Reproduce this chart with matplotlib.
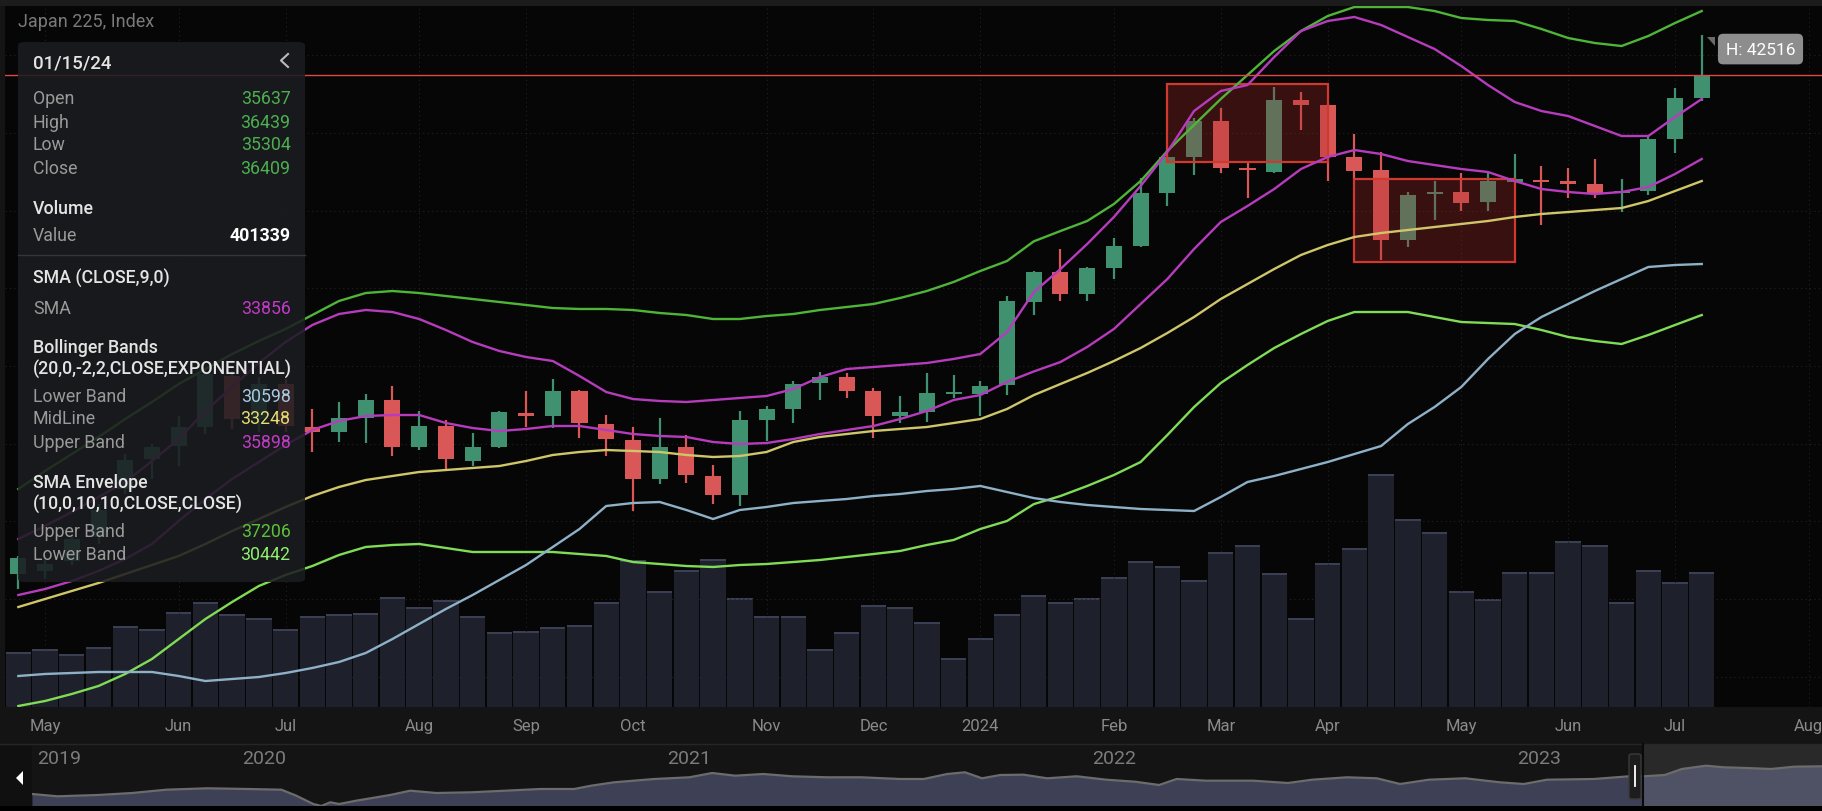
import numpy as np
import pandas as pd
import matplotlib.pyplot as plt
from matplotlib.patches import FancyBboxPatch, Rectangle, Polygon
from matplotlib.lines import Line2D

plt.rcParams['font.family'] = ['Roboto', 'DejaVu Sans']

# weekly candles, Japan 225 (week of 2023-04-24 .. 2024-07-08)
opens = [28644, 28721, 28978, 29596, 30831, 31604, 31938, 32427, 33740, 32633,
         33534, 32427, 32299, 32659, 33122, 31913, 32453, 31552, 31913, 32788,
         32710, 33354, 32504, 32093, 31089, 31913, 31166, 30677, 32608, 32891,
         33560, 33714, 33354, 32710, 32813, 33277, 33277, 33508, 35637, 36417,
         35851, 36520, 37086, 38450, 39377, 40304, 39094, 38991, 40844, 40716,
         39377, 39043, 37241, 38425, 38476, 38219, 38734, 38785, 38759, 38682,
         38450, 38502, 39840, 40896]
highs = [29107, 29133, 29647, 30445, 31732, 31990, 32710, 33869, 33869, 33714,
         33663, 32891, 33071, 33277, 33483, 32839, 32608, 32273, 32839, 33354,
         33663, 33380, 32736, 32427, 32659, 32221, 31449, 32839, 32968, 33611,
         33843, 33817, 33431, 33225, 33817, 33766, 33611, 35799, 36439, 37009,
         36546, 37292, 38837, 39429, 40381, 40638, 39248, 41179, 41050, 40760,
         39969, 39506, 38476, 38759, 38965, 38965, 39454, 39145, 39094, 39326,
         38811, 39918, 41153, 42516]
lows = [28257, 28515, 28875, 29416, 30703, 31089, 31423, 32247, 32376, 32299,
        32299, 31784, 32041, 32015, 31681, 31835, 31295, 31423, 31887, 32427,
        32401, 32144, 31681, 30265, 30960, 30986, 30445, 30394, 32067, 32530,
        33122, 33174, 32144, 32530, 32556, 33174, 32710, 33251, 35304, 35671,
        35671, 36237, 37061, 38116, 38914, 38965, 38322, 38965, 40072, 38759,
        38811, 36726, 37061, 37756, 37987, 37987, 38708, 37627, 38322, 38322,
        37961, 38399, 39480, 40819]
closes = [29055, 28901, 29544, 30291, 31578, 31913, 32427, 33791, 32633, 33534,
          32453, 32299, 32659, 33122, 31913, 32453, 31604, 31913, 32813, 32710,
          33354, 32530, 32118, 31089, 31913, 31192, 30677, 32608, 32891, 33534,
          33714, 33354, 32710, 32813, 33302, 33328, 33483, 35671, 36409, 35851,
          36520, 37086, 38450, 39377, 40304, 39094, 39043, 40844, 40716, 39377,
          39017, 37241, 38399, 38476, 38193, 38759, 38811, 38734, 38682, 38450,
          38502, 39840, 40896, 41488]
volumes = [195500, 207300, 189400, 215500, 290600, 278800, 338500, 376300, 331300, 318100,
           278800, 324200, 331300, 337000, 394200, 356300, 382400, 324200, 267000, 272700,
           285900, 292000, 376300, 525400, 414600, 489600, 530000, 389600, 324200, 324200,
           208400, 267000, 363500, 356300, 304900, 175100, 246600, 331300, 401339, 375300,
           388500, 465700, 522900, 505000, 452800, 555000, 580100, 477800, 317000, 515700,
           568300, 832700, 671900, 625500, 413500, 387100, 483600, 483600, 593300, 580100,
           374200, 490700, 445700, 483600]

# indicator lines
sma9 = [28103, 28257, 28463, 28721, 29030, 29416, 30008, 30574, 31089, 31526,
        31964, 32350, 32582, 32710, 32736, 32736, 32530, 32401, 32324, 32376,
        32453, 32453, 32350, 32247, 32196, 32170, 32041, 31990, 32015, 32118,
        32247, 32350, 32453, 32633, 32839, 33122, 33251, 33586, 33856, 34100,
        34487, 34950, 35593, 36237, 37009, 37704, 38116, 38553, 39068, 39377,
        39557, 39454, 39274, 39171, 39068, 38991, 38759, 38553, 38476, 38425,
        38476, 38605, 38940, 39326]
bb_upper = [29544, 29879, 30239, 30626, 31012, 31552, 32118, 32839, 33457, 34075,
            34615, 35053, 35336, 35439, 35387, 35207, 34924, 34615, 34384, 34229,
            34126, 33740, 33328, 33148, 33097, 33071, 33122, 33174, 33225, 33405,
            33714, 33920, 33972, 34023, 34075, 34178, 34306, 34873, 35898, 36494,
            37138, 37833, 38631, 39506, 40561, 41076, 41230, 41951, 42620, 42878,
            42981, 42775, 42466, 42157, 41719, 41230, 40793, 40561, 40432, 40175,
            39918, 39918, 40407, 40870]
bb_mid = [27794, 28000, 28206, 28412, 28644, 28875, 29107, 29416, 29750, 30059,
          30368, 30651, 30883, 31063, 31166, 31269, 31320, 31372, 31423, 31552,
          31707, 31784, 31835, 31810, 31784, 31707, 31655, 31681, 31784, 32041,
          32170, 32247, 32324, 32376, 32427, 32530, 32633, 32891, 33248, 33534,
          33817, 34126, 34461, 34847, 35259, 35722, 36108, 36494, 36855, 37112,
          37318, 37421, 37498, 37575, 37653, 37730, 37833, 37910, 37961, 38013,
          38064, 38244, 38502, 38759]
bb_lower = [26018, 26070, 26095, 26121, 26121, 26121, 26018, 25889, 25941, 25992,
            26095, 26224, 26378, 26610, 26970, 27357, 27743, 28103, 28489, 28875,
            29339, 29802, 30394, 30471, 30497, 30291, 30059, 30291, 30368, 30471,
            30523, 30574, 30651, 30703, 30780, 30831, 30909, 30754, 30598, 30497,
            30420, 30368, 30317, 30291, 30265, 30626, 31012, 31166, 31346, 31526,
            31732, 31938, 32504, 32942, 33457, 34178, 34821, 35259, 35593, 35928,
            36237, 36546, 36597, 36623]
env_upper = [30831, 31295, 31732, 32170, 32633, 33071, 33534, 33920, 34306, 34641,
             34950, 35310, 35671, 35876, 35928, 35876, 35799, 35722, 35645, 35568,
             35490, 35465, 35465, 35439, 35362, 35310, 35207, 35207, 35284, 35336,
             35439, 35516, 35593, 35748, 35928, 36160, 36443, 36700, 37206, 37472,
             37730, 38167, 38759, 39532, 40201, 40870, 41488, 42106, 42620, 43006,
             43238, 43238, 43238, 43135, 42955, 42904, 42878, 42672, 42440, 42311,
             42234, 42492, 42826, 43135]
env_lower = [25246, 25375, 25555, 25761, 26070, 26456, 26970, 27485, 27923, 28335,
             28618, 28849, 29133, 29339, 29390, 29416, 29313, 29210, 29210, 29210,
             29210, 29158, 29107, 28952, 28901, 28849, 28824, 28875, 28901, 28952,
             29004, 29081, 29158, 29236, 29390, 29519, 29802, 30008, 30442, 30651,
             30909, 31192, 31526, 32221, 32942, 33560, 34023, 34461, 34821, 35156,
             35387, 35387, 35387, 35259, 35130, 35104, 35078, 34924, 34744, 34641,
             34564, 34795, 35053, 35310]

# highlighted ranges (candle index from/to, price low/high)
box_from = [43, 50]
box_to = [49, 56]
box_low = [39256, 36667]
box_high = [41256, 38811]

# overview strip (year, level)
nav_year = [2019.453, 2019.513, 2019.608, 2019.689, 2019.769, 2019.866, 2019.960, 2020.040,
            2020.075, 2020.115, 2020.134, 2020.155, 2020.176, 2020.216, 2020.296, 2020.343,
            2020.405, 2020.487, 2020.567, 2020.649, 2020.729, 2020.769, 2020.823, 2020.918,
            2021.000, 2021.054, 2021.108, 2021.174, 2021.242, 2021.325, 2021.405, 2021.496,
            2021.552, 2021.607, 2021.649, 2021.689, 2021.732, 2021.787, 2021.842, 2021.912,
            2021.981, 2022.049, 2022.106, 2022.147, 2022.216, 2022.327, 2022.409, 2022.466,
            2022.548, 2022.618, 2022.673, 2022.741, 2022.826, 2022.908, 2022.964, 2023.019,
            2023.129, 2023.212, 2023.247, 2023.296, 2023.336, 2023.393, 2023.435, 2023.489,
            2023.546, 2023.600, 2023.666]
nav_level = [20040, 19074, 19620, 20460, 21846, 22434, 22140, 21846, 19326, 15840,
             15000, 16554, 15840, 17226, 19620, 21426, 20460, 20754, 21426, 22140,
             22140, 23526, 24954, 26340, 27054, 28860, 27726, 28440, 27474, 27054,
             27054, 26340, 26340, 28440, 29154, 26634, 28020, 28146, 26634, 27474,
             26046, 25206, 23820, 26340, 25626, 25626, 24660, 26046, 27054, 26634,
             24240, 26046, 26634, 24954, 24240, 26046, 26340, 27474, 27474, 28020,
             30540, 31926, 31254, 30960, 30540, 31506, 31674]
nav_sel_start = 2023.242
nav_years = [2020, 2021, 2022, 2023]

hover = 38  # candle shown in the info box

green = '#3f9170'
red = '#d95757'
magenta = '#b63cbd'
env_up_col = '#4fb538'
env_lo_col = '#80dc56'
mid_col = '#cfc66a'
low_col = '#8eb1c7'
txt_gray = '#9a9a9a'

W, H = 1822, 812
def rect(x0, y0, x1, y1):
    return [x0 / W, 1 - y1 / H, (x1 - x0) / W, (y1 - y0) / H]

fig = plt.figure(figsize=(W / 100, H / 100), dpi=100, facecolor='#141414')

x = np.arange(len(closes))
o = np.array(opens, float)
c = np.array(closes, float)
cols = np.where(c >= o, green, red)

# price axis on top of the volume axis
ax = fig.add_axes(rect(5, 7, W, 708))
ax_v = ax.twinx()
ax.set_zorder(ax_v.get_zorder() + 1)
ax.patch.set_visible(False)
ax_v.patch.set_visible(True)
ax_v.set_facecolor('#060606')

ax_v.bar(x, volumes, width=0.95, color='#1e212c', zorder=1)
cap = 7000
ax_v.bar(x, cap, bottom=np.array(volumes) - cap, width=0.95, color='#3a3f53', zorder=2)
ax_v.set_ylim(0, 2505374)
ax_v.set_yticks([])

ax.set_xlim(-0.5, 67.5)
ax.set_ylim(25220, 43264)

ax.vlines(x, lows, highs, colors=cols, lw=1.6, zorder=2)
body = np.maximum(np.abs(c - o), 45)
ax.bar(x, body, bottom=np.minimum(o, c), width=0.6, color=cols, zorder=3)

for i in range(len(box_from)):
    ax.add_patch(Rectangle((box_from[i], box_low[i]), box_to[i] - box_from[i],
                           box_high[i] - box_low[i], fc='#b02a2a', alpha=0.3,
                           ec='none', zorder=4))
    ax.add_patch(Rectangle((box_from[i], box_low[i]), box_to[i] - box_from[i],
                           box_high[i] - box_low[i], fc='none', ec='#cf3a2e',
                           lw=1.6, zorder=4))

ax.plot(x, env_upper, color=env_up_col, lw=1.7, zorder=5)
ax.plot(x, env_lower, color=env_lo_col, lw=1.7, zorder=5)
ax.plot(x, bb_lower, color=low_col, lw=1.7, zorder=5)
ax.plot(x, bb_mid, color=mid_col, lw=1.7, zorder=5)
ax.plot(x, bb_upper, color=magenta, lw=1.7, zorder=5)
ax.plot(x, sma9, color=magenta, lw=1.7, zorder=5)

ax.axhline(closes[-1], color='#e04848', lw=1.0, zorder=6)

top = int(np.argmax(highs))
ax.annotate(f'H: {highs[top]}', xy=(top, highs[top]), xytext=(24, -14),
            textcoords='offset pixels', ha='left', va='center', color='white',
            fontsize=12.5, zorder=8,
            bbox=dict(boxstyle='round,pad=0.45,rounding_size=0.3', fc='#8d8d8d', ec='none'))

# month ticks at first candle of each month
dates = pd.date_range('2023-04-24', periods=68, freq='W-MON')
tick_pos, tick_lab = [], []
for i in range(1, len(dates)):
    if dates[i].month != dates[i - 1].month:
        tick_pos.append(i)
        tick_lab.append(str(dates[i].year) if dates[i].month == 1 else dates[i].strftime('%b'))
ax.set_xticks(tick_pos)
ax.set_xticklabels(tick_lab)
ax.set_yticks(range(26000, 44000, 2000))
ax.set_yticklabels([])
ax.tick_params(axis='x', length=0, pad=8, labelsize=12, colors='#8a8a8a')
ax.tick_params(axis='y', length=0)
ax.grid(True, ls=(0, (1, 3)), color='#222222', lw=0.8)
for a in (ax, ax_v):
    for s in a.spines.values():
        s.set_visible(False)

# overview strip
nav = fig.add_axes(rect(32, 745, W, 807))
nav.set_facecolor('#141414')
nav.fill_between(nav_year, nav_level, 15000, color='#3e4055', lw=0)
nav.plot(nav_year, nav_level, color='#6c6c6c', lw=1.6)
nav.axvspan(nav_sel_start, nav_year[-1], color='white', alpha=0.09, lw=0)
nav.set_xlim(nav_year[0], nav_year[-1])
nav.set_ylim(15000, 41040)
nav.set_xticks([])
nav.set_yticks([])
for s in nav.spines.values():
    s.set_visible(False)
nav.text(0.003, 0.77, '2019', transform=nav.transAxes, ha='left', va='center',
         color='#7c7c7c', fontsize=14)
for yr in nav_years:
    nav.text(yr, 0.77, str(yr), transform=nav.get_xaxis_transform(), ha='center',
             va='center', color='#7c7c7c', fontsize=14)

def fpx(px, py):
    return (px / W, 1 - py / H)

fig.add_artist(Rectangle(fpx(0, 7), 1, 7 / H, transform=fig.transFigure, fc='#1c1c1c', ec='none'))
fig.add_artist(Rectangle(fpx(0, 812), 1, 5 / H, transform=fig.transFigure, fc='#000000', ec='none'))
fig.add_artist(Line2D([0, 1], [1 - 745 / H] * 2, color='#262626', lw=1))
fig.add_artist(Rectangle(fpx(0, 807), 32 / W, 62 / H, transform=fig.transFigure, fc='#101010', ec='none'))
fig.add_artist(Polygon([fpx(23, 772), fpx(23, 786), fpx(16, 779)], closed=True,
                       transform=fig.transFigure, fc='white', ec='none'))
fig.add_artist(Line2D([1643 / W] * 2, [1 - 807 / H, 1 - 745 / H], color='#0a0a0a', lw=1.5))
fig.add_artist(FancyBboxPatch(fpx(1629, 800), 12 / W, 45 / H, boxstyle='round,pad=0,rounding_size=0.002',
                              transform=fig.transFigure, fc='#1d1d1d', ec='#3a3a3a', lw=1))
fig.add_artist(Line2D([1635 / W] * 2, [1 - 787 / H, 1 - 767 / H], color='white', lw=1.3))
fig.add_artist(Polygon([fpx(1707, 38), fpx(1715, 38), fpx(1715, 47)], closed=True,
                       transform=fig.transFigure, fc='#6a6a6a', ec='none'))

fig.text(18 / W, 1 - 22 / H, 'Japan 225, Index', color='#7a7a7a', fontsize=13, va='center')

# info box
fig.add_artist(FancyBboxPatch(fpx(18, 583), 287 / W, 540 / H, boxstyle='round,pad=0,rounding_size=0.004',
                              transform=fig.transFigure, fc='#1b1c20', ec='none', alpha=0.87, zorder=10))
fig.add_artist(Line2D([18 / W, 305 / W], [1 - 256 / H] * 2, color='#34353a', lw=1, zorder=11))
fig.add_artist(Line2D([288 / W, 281 / W, 288 / W], [1 - 55 / H, 1 - 61.5 / H, 1 - 68 / H],
                      color='#bbbbbb', lw=1.5, zorder=11))

def head(s, py, size=12.8):
    fig.text(33 / W, 1 - py / H, s, color='#e4e4e4', fontsize=size, fontweight='medium',
             va='center', ha='left', zorder=12)

def row(s, v, py, col, weight='normal'):
    fig.text(33 / W, 1 - py / H, s, color=txt_gray, fontsize=12.8, va='center', ha='left', zorder=12)
    fig.text(290.5 / W, 1 - py / H, f'{v}', color=col, fontsize=12.8, va='center', ha='right',
             fontweight=weight, zorder=12)

h = hover
head(dates[h].strftime('%m/%d/%y'), 63.5, 13.5)
row('Open', opens[h], 99, '#4caf50')
row('High', highs[h], 122.7, '#4caf50')
row('Low', lows[h], 145.3, '#4caf50')
row('Close', closes[h], 168.7, '#4caf50')
head('Volume', 209)
row('Value', volumes[h], 236, '#ffffff', 'bold')
head('SMA (CLOSE,9,0)', 278.7)
row('SMA', sma9[h], 309.3, '#c13bc6')
head('Bollinger Bands', 348.3)
head('(20,0,-2,2,CLOSE,EXPONENTIAL)', 369.3)
row('Lower Band', bb_lower[h], 396.7, '#a6cbe3')
row('MidLine', bb_mid[h], 419.3, '#e3dd72')
row('Upper Band', bb_upper[h], 443.3, '#c13bc6')
head('SMA Envelope', 482.7)
head('(10,0,10,10,CLOSE,CLOSE)', 505)
row('Upper Band', env_upper[h], 531.7, '#5bc236')
row('Lower Band', env_lower[h], 555, '#8ef06e')

fig.savefig('out.png', dpi=100, facecolor=fig.get_facecolor())
